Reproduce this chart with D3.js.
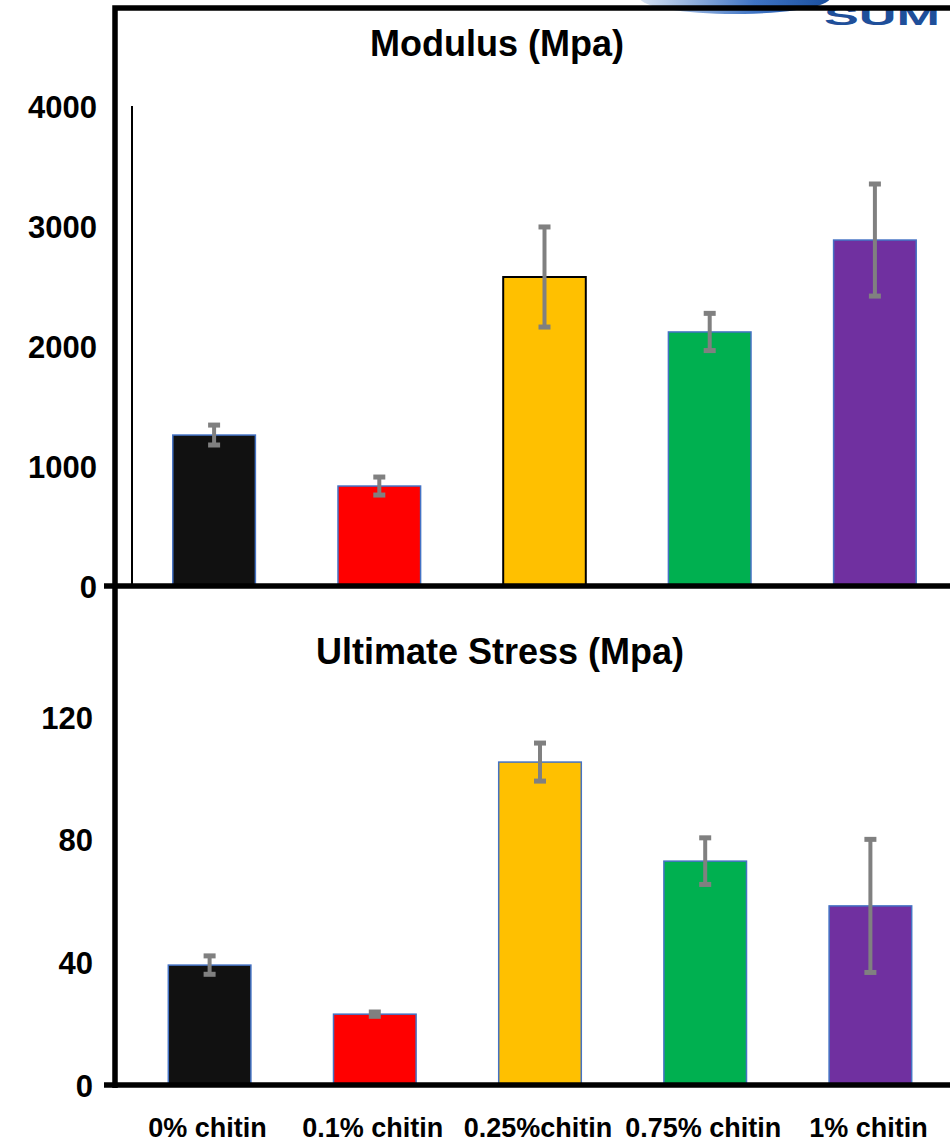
<!DOCTYPE html>
<html>
<head>
<meta charset="utf-8">
<script src="https://cdn.jsdelivr.net/npm/d3@7"></script>
<style>
  body { margin: 0; background: #fff; }
  text { font-family: "Liberation Sans", Arial, sans-serif; font-weight: bold; fill: #000; }
</style>
</head>
<body>
<script>
const W = 950, H = 1143

// data
const groups = ['0% chitin', '0.1% chitin', '0.25%chitin', '0.75% chitin', '1% chitin']
const colors = ['#111111', '#ff0000', '#ffc000', '#00b050', '#7030a0']
const modulus = [1258, 833, 2575, 2117, 2883]
const modulusErr = [83, 75, 417, 155, 467]
const stress = [39.1, 23.1, 105.3, 73.0, 58.4]
const stressErr = [3.0, 0.7, 6.2, 7.6, 21.7]
const modulusTicks = [0, 1000, 2000, 3000, 4000]
const stressTicks = [0, 40, 80, 120]

const svg = d3.select('body').append('svg')
    .attr('width', W)
    .attr('height', H)

// partial logo peeking in at the top right
const defs = svg.append('defs')
const grad = defs.append('linearGradient').attr('id', 'swoosh')
grad.append('stop').attr('offset', '0%').attr('stop-color', '#d6e2f2')
grad.append('stop').attr('offset', '60%').attr('stop-color', '#3f74c4')
grad.append('stop').attr('offset', '100%').attr('stop-color', '#1a4f9e')
svg.append('ellipse')
    .attr('cx', 735).attr('cy', -2).attr('rx', 95).attr('ry', 16)
    .attr('fill', 'url(#swoosh)')
svg.append('text')
    .attr('x', 824).attr('y', 25)
    .attr('textLength', 116)
    .attr('lengthAdjust', 'spacingAndGlyphs')
    .style('fill', '#1f4f9a')
    .style('font-size', '25px')
    .text('SUM')

const chart = (opts) => {
  const y = d3.scaleLinear().domain(opts.domain).range([opts.y0, opts.y1])
  const x = d3.scaleBand()
      .domain(groups)
      .range(opts.xRange)
      .paddingInner(0.5)
      .paddingOuter(0.25)

  const g = svg.append('g')

  // bars
  g.selectAll('rect.bar').data(opts.values)
    .enter().append('rect')
      .attr('class', 'bar')
      .attr('x', (d, i) => x(groups[i]))
      .attr('y', (d) => y(d))
      .attr('width', x.bandwidth())
      .attr('height', (d) => y(0) - y(d))
      .attr('fill', (d, i) => colors[i])
      .attr('stroke', (d, i) => (opts.blackEdge === i ? '#000' : '#4472c4'))
      .attr('stroke-width', (d, i) => (opts.blackEdge === i ? 2 : 1.5))

  // error bars
  const eb = g.selectAll('g.err').data(opts.values)
    .enter().append('g')
      .attr('class', 'err')
      .attr('transform', (d, i) => `translate(${x(groups[i]) + x.bandwidth() / 2},0)`)
  eb.append('line')
      .attr('y1', (d, i) => y(d + opts.errs[i]))
      .attr('y2', (d, i) => y(d - opts.errs[i]))
      .attr('stroke', '#808080')
      .attr('stroke-width', 4)
  eb.selectAll('rect.cap').data((d, i) => [d + opts.errs[i], d - opts.errs[i]])
    .enter().append('rect')
      .attr('class', 'cap')
      .attr('x', -6)
      .attr('y', (v) => y(v) - 2.5)
      .attr('width', 12)
      .attr('height', 5)
      .attr('fill', '#808080')

  // tick labels
  g.selectAll('text.tick').data(opts.ticks)
    .enter().append('text')
      .attr('class', 'tick')
      .attr('x', opts.labelX)
      .attr('y', (d) => y(d) + 1)
      .attr('text-anchor', 'end')
      .attr('dominant-baseline', 'central')
      .style('font-size', '31px')
      .text((d) => d)

  // baseline with its small tick out to the left
  g.append('line')
      .attr('x1', 104).attr('x2', W)
      .attr('y1', y(0)).attr('y2', y(0))
      .attr('stroke', '#000')
      .attr('stroke-width', 5.5)

  // title
  g.append('text')
      .attr('x', opts.titleX)
      .attr('y', opts.titleY)
      .attr('text-anchor', 'middle')
      .style('font-size', '36px')
      .text(opts.title)

  return { x, y }
}

const upper = chart({
  title: 'Modulus (Mpa)', titleX: 497, titleY: 56,
  domain: [0, 4000], y0: 586, y1: 106,
  xRange: [131.5, 957.5],
  values: modulus, errs: modulusErr, ticks: modulusTicks,
  labelX: 97, blackEdge: 2
})

// thin inner axis of the upper chart
svg.append('line')
    .attr('x1', 132).attr('x2', 132)
    .attr('y1', upper.y(4000)).attr('y2', upper.y(0))
    .attr('stroke', '#000')
    .attr('stroke-width', 2)

const lower = chart({
  title: 'Ultimate Stress (Mpa)', titleX: 500, titleY: 664,
  domain: [0, 120], y0: 1085, y1: 717,
  xRange: [127, 953],
  values: stress, errs: stressErr, ticks: stressTicks,
  labelX: 93, blackEdge: -1
})

// category labels under the lower chart
svg.selectAll('text.cat').data(groups)
  .enter().append('text')
    .attr('class', 'cat')
    .attr('x', (d) => lower.x(d) + lower.x.bandwidth() / 2 - 2)
    .attr('y', 1137)
    .attr('text-anchor', 'middle')
    .style('font-size', '27px')
    .text((d) => d)

// outer frame: top rule and left rule
svg.append('path')
    .attr('d', `M115,1088 V8 H${W}`)
    .attr('fill', 'none')
    .attr('stroke', '#000')
    .attr('stroke-width', 5.5)
</script>
</body>
</html>
